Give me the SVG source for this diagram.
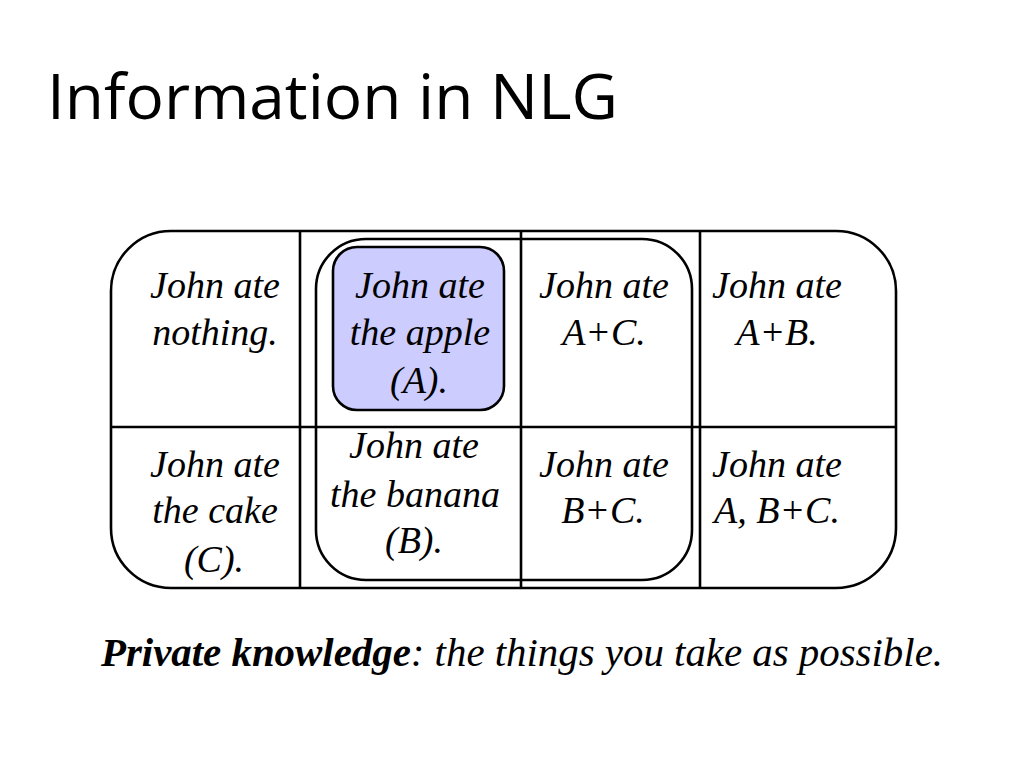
<svg xmlns="http://www.w3.org/2000/svg" width="1024" height="768" viewBox="0 0 1024 768">
<style>
.ln{fill:none;stroke:#000;stroke-width:2.6}
.c{font-family:"Liberation Serif","Times New Roman",serif;font-style:italic;font-size:38px;text-anchor:middle;fill:#000}
</style>
<rect width="1024" height="768" fill="#fff"/>
<text x="47" y="119" font-family="'Open Sans','DejaVu Sans',sans-serif" font-size="63" textLength="571" lengthAdjust="spacingAndGlyphs">Information in NLG</text>
<g id="grid">
<rect class="ln" x="111" y="231" width="785" height="357" rx="60"/>
<line class="ln" x1="111" y1="427" x2="896" y2="427"/>
<line class="ln" x1="300" y1="231" x2="300" y2="588"/>
<line class="ln" x1="521" y1="231" x2="521" y2="588"/>
<line class="ln" x1="700" y1="231" x2="700" y2="588"/>
</g>
<g id="possible">
<rect class="ln" x="316" y="239" width="376" height="341" rx="50"/>
</g>
<g id="actual">
<rect x="333" y="247" width="171" height="163" rx="24" fill="#ccccff" stroke="#000" stroke-width="2.6"/>
</g>
<g id="cell-nothing"><text class="c" x="215" y="298">John ate</text><text class="c" x="215" y="345">nothing.</text></g>
<g id="cell-apple"><text class="c" x="420" y="298">John ate</text><text class="c" x="420" y="345">the apple</text><text class="c" x="419" y="393">(A).</text></g>
<g id="cell-ac"><text class="c" x="604" y="298">John ate</text><text class="c" x="604" y="345">A+C.</text></g>
<g id="cell-ab"><text class="c" x="777" y="298">John ate</text><text class="c" x="777" y="345">A+B.</text></g>
<g id="cell-cake"><text class="c" x="215" y="477">John ate</text><text class="c" x="215" y="523">the cake</text><text class="c" x="214" y="572">(C).</text></g>
<g id="cell-banana"><text class="c" x="414" y="458">John ate</text><text class="c" x="415" y="507">the banana</text><text class="c" x="414" y="553">(B).</text></g>
<g id="cell-bc"><text class="c" x="604" y="477">John ate</text><text class="c" x="603" y="523">B+C.</text></g>
<g id="cell-abc"><text class="c" x="777" y="477">John ate</text><text class="c" x="777" y="523">A, B+C.</text></g>
<text x="101" y="666" font-family="'Liberation Serif','Times New Roman',serif" font-style="italic" font-size="39" textLength="842" lengthAdjust="spacingAndGlyphs"><tspan font-weight="bold">Private knowledge</tspan>: the things you take as possible.</text>
</svg>
